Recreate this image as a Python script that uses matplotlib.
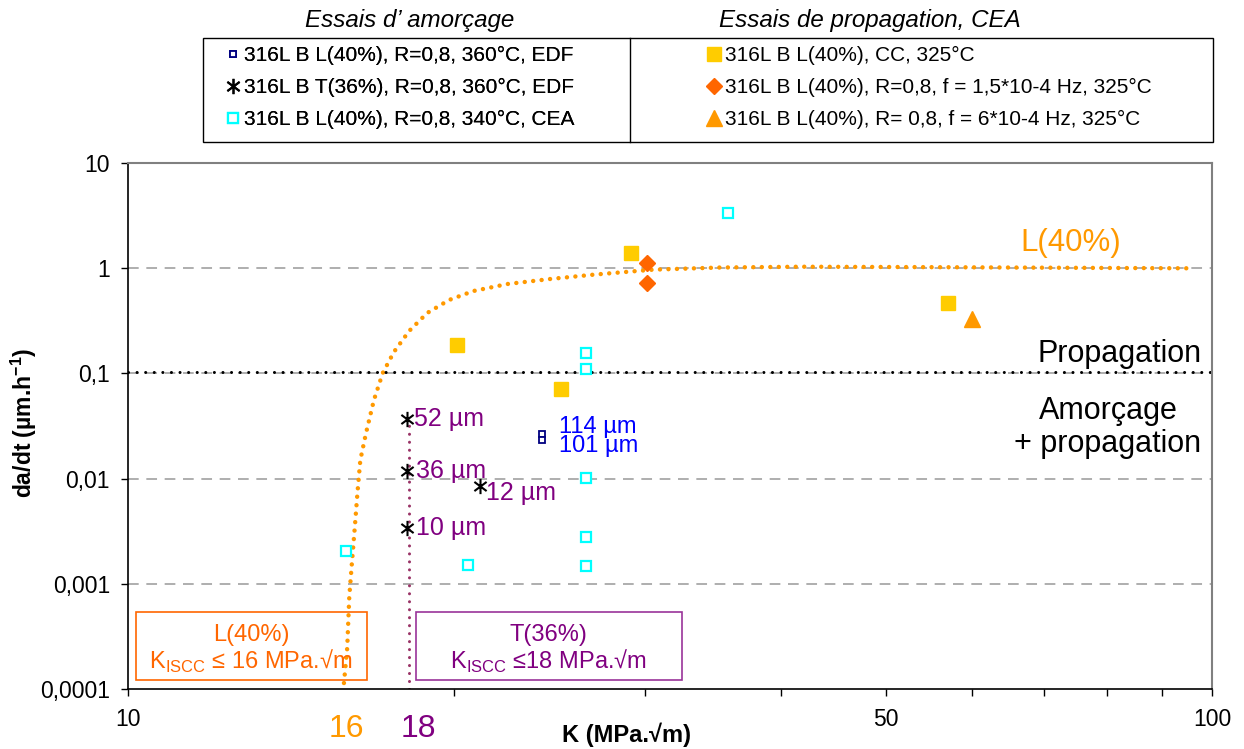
import matplotlib
matplotlib.use("Agg")
import matplotlib.pyplot as plt
from matplotlib.patches import Rectangle
from matplotlib.lines import Line2D
from matplotlib.path import Path
from matplotlib.ticker import FixedLocator, NullFormatter, FixedFormatter

plt.rcParams['font.family'] = ['Liberation Sans', 'DejaVu Sans']
plt.rcParams['mathtext.fontset'] = 'custom'
plt.rcParams['mathtext.rm'] = 'Liberation Sans'
plt.rcParams['mathtext.bf'] = 'Liberation Sans:bold'

# --- data ---
edf_l40_k = [24.1, 24.1]
edf_l40_v = [0.0266, 0.0233]
edf_l40_txt = ['114 µm', '101 µm']

t36_k = [18.1, 18.1, 18.1, 21.1]
t36_v = [0.0369, 0.0119, 0.00339, 0.0085]
t36_txt = ['52 µm', '36 µm', '10 µm', '12 µm']

cea_l40_k = [15.9, 20.6, 26.45, 26.45, 26.45, 26.45, 26.45, 35.8]
cea_l40_v = [0.00205, 0.00151, 0.156, 0.110, 0.0101, 0.00279, 0.00148, 3.35]

cc_k = [20.1, 25.1, 29.1, 57.1]
cc_v = [0.186, 0.0711, 1.39, 0.467]

f15_k = [30.1, 30.1]
f15_v = [1.12, 0.724]

f6_k = [60.1]
f6_v = [0.329]

curve_k = [15.82, 15.93, 16.00, 16.09, 16.19, 16.28, 16.38, 16.58, 16.86, 17.18,
           17.59, 18.17, 18.88, 19.78, 20.83, 22.40, 24.53, 26.85, 30.48, 35.16,
           41.69, 51.5, 70.7, 95.0]
curve_v = [0.000114, 0.000245, 0.000749, 0.00158, 0.00347, 0.00729, 0.0150,
           0.0271, 0.0558, 0.1009, 0.1596, 0.253, 0.375, 0.499, 0.607, 0.708,
           0.790, 0.867, 0.968, 1.015, 1.033, 1.026, 1.011, 0.998]

threshold_v = 0.103
kiscc_t36 = 18.15
kiscc_t36_top = 0.033

x_ticks = [10, 50, 100]
x_minor = [20, 30, 40, 60, 70, 80, 90]
y_ticks = [0.0001, 0.001, 0.01, 0.1, 1, 10]
y_labels = ['0,0001', '0,001', '0,01', '0,1', '1', '10']

# excel-like star: vertical bar + X
star = Path([(0, -1), (0, 1), (-0.8, -0.6), (0.8, 0.6), (-0.8, 0.6), (0.8, -0.6)],
            [Path.MOVETO, Path.LINETO] * 3)

fig = plt.figure(figsize=(12.44, 7.49), dpi=100)
ax = fig.add_axes([128/1244, 60/749, 1084/1244, 526/749])
ax.set_xscale('log')
ax.set_yscale('log')
ax.set_xlim(10, 100)
ax.set_ylim(0.0001, 10)

# grid
for v in [0.001, 0.01, 0.1, 1]:
    ax.axhline(v, color='#999999', lw=1.1, ls=(0, (7, 5)), zorder=0)

# fit curve L(40%)
ax.plot(curve_k, curve_v, color='#FF9900', lw=3.2, ls=(0, (0.01, 1.9)),
        dash_capstyle='round', zorder=2)
# propagation threshold
ax.axhline(threshold_v, color='black', lw=2.2, ls=(0, (0.01, 2.8)),
           dash_capstyle='round', zorder=2)
# KISCC T(36%)
ax.plot([kiscc_t36, kiscc_t36], [0.0001, kiscc_t36_top], color='#993366', lw=2.2,
        ls=(0, (0.01, 2.6)), dash_capstyle='round', zorder=2)

h1, = ax.plot(edf_l40_k, edf_l40_v, ls='none', marker='s', ms=5, mfc='white',
              mec='#000080', mew=1.3, zorder=4)
h2, = ax.plot(t36_k, t36_v, ls='none', marker=star, ms=11, mec='black',
              mew=1.5, zorder=4)
h3, = ax.plot(cea_l40_k, cea_l40_v, ls='none', marker='s', ms=7, mfc='white',
              mec='#00FFFF', mew=1.6, zorder=4)
h4, = ax.plot(cc_k, cc_v, ls='none', marker='s', ms=10, color='#FFCC00', zorder=4)
h5, = ax.plot(f15_k, f15_v, ls='none', marker='D', ms=8.5, color='#FF6600', zorder=4)
h6, = ax.plot(f6_k, f6_v, ls='none', marker='^', ms=11, color='#FF9900', zorder=4)

# point labels
t36_off = [(5, 0), (6, 0), (6, 0), (5, -5)]
for k, v, s, off in zip(t36_k, t36_v, t36_txt, t36_off):
    ax.annotate(s, (k, v), xytext=off, textcoords='offset points', color='#800080',
                fontsize=18, ha='left', va='center')
edf_off = [(12, 5), (12, -4)]
for k, v, s, off in zip(edf_l40_k, edf_l40_v, edf_l40_txt, edf_off):
    ax.annotate(s, (k, v), xytext=off, textcoords='offset points', color='#0000FF',
                fontsize=17, ha='left', va='center')

ax.text(0.870, 0.848, 'L(40%)', transform=ax.transAxes, color='#FF9900',
        fontsize=22.5, ha='center', va='center')
ax.text(0.990, 0.637, 'Propagation', transform=ax.transAxes, color='black',
        fontsize=22, ha='right', va='center')
ax.text(0.904, 0.497, 'Amorçage\n+ propagation', transform=ax.transAxes,
        color='black', fontsize=22, ha='center', va='center', linespacing=1.15)

# KISCC boxes
ax.add_patch(Rectangle((0.0074, 0.0171), 0.2131, 0.1293, transform=ax.transAxes,
                       fill=False, ec='#FF6600', lw=1.2, zorder=3))
ax.add_patch(Rectangle((0.2657, 0.0171), 0.2453, 0.1293, transform=ax.transAxes,
                       fill=False, ec='#993399', lw=1.2, zorder=3))
ax.text(0.1135, 0.103, 'L(40%)', transform=ax.transAxes, color='#FF6600',
        fontsize=17, ha='center', va='center')
ax.text(0.1135, 0.052, 'K$_\\mathregular{ISCC}$ ≤ 16 MPa.√m', transform=ax.transAxes,
        color='#FF6600', fontsize=17, ha='center', va='center')
ax.text(0.388, 0.103, 'T(36%)', transform=ax.transAxes, color='#800080',
        fontsize=17, ha='center', va='center')
ax.text(0.388, 0.052, 'K$_\\mathregular{ISCC}$ ≤18 MPa.√m', transform=ax.transAxes,
        color='#800080', fontsize=17, ha='center', va='center')

# axes styling
ax.xaxis.set_major_locator(FixedLocator(x_ticks))
ax.xaxis.set_major_formatter(FixedFormatter([str(t) for t in x_ticks]))
ax.xaxis.set_minor_locator(FixedLocator(x_minor))
ax.xaxis.set_minor_formatter(NullFormatter())
ax.yaxis.set_major_locator(FixedLocator(y_ticks))
ax.yaxis.set_major_formatter(FixedFormatter(y_labels))
ax.yaxis.set_minor_locator(FixedLocator([]))
ax.tick_params(axis='both', which='both', direction='out', length=5, width=1,
               labelsize=16.5)
ax.tick_params(axis='x', pad=9)
ax.tick_params(axis='y', pad=8)
for s in ['top', 'right']:
    ax.spines[s].set_color('#808080')
    ax.spines[s].set_linewidth(1.5)
for s in ['left', 'bottom']:
    ax.spines[s].set_linewidth(1.2)

ax.text(0.201, -0.076, '16', transform=ax.transAxes, color='#FF9900',
        fontsize=23, ha='center', va='center')
ax.text(0.268, -0.076, '18', transform=ax.transAxes, color='#800080',
        fontsize=23, ha='center', va='center')

ax.set_xlabel('K (MPa.√m)', fontsize=17, fontweight='bold', labelpad=0)
ax.xaxis.set_label_coords(0.460, -0.064)
ax.set_ylabel('da/dt (µm.h$^{\\mathbf{-1}}$)', fontsize=16.5, fontweight='bold')
ax.yaxis.set_label_coords(-0.082, 0.505)

# legend table
fig.add_artist(Rectangle((203/1244, 1 - 142/749), 1010/1244, 104/749,
                         transform=fig.transFigure, fill=False, ec='black', lw=1))
fig.add_artist(Line2D([630/1244, 630/1244], [1 - 142/749, 1 - 38/749],
                      transform=fig.transFigure, color='black', lw=1))
fig.text(410/1244, 1 - 20/749, "Essais d’ amorçage", fontsize=17.4, style='italic',
         ha='center', va='center')
fig.text(870/1244, 1 - 20/749, 'Essais de propagation, CEA', fontsize=17.4,
         style='italic', ha='center', va='center')

leg_kw = dict(frameon=False, fontsize=15, handlelength=0.7, handletextpad=0.15,
              labelspacing=0.63, borderpad=0, borderaxespad=0, loc='upper left')
leg1 = fig.legend([h1, h2, h3], ['316L B L(40%), R=0,8, 360°C, EDF',
                                 '316L B T(36%), R=0,8, 360°C, EDF',
                                 '316L B L(40%), R=0,8, 340°C, CEA'],
                  bbox_to_anchor=(226/1244, 1 - 46/749), **leg_kw)
fig.add_artist(leg1)
fig.legend([h4, h5, h6], ['316L B L(40%), CC, 325°C',
                          '316L B L(40%), R=0,8, f = 1,5*10-4 Hz, 325°C',
                          '316L B L(40%), R= 0,8, f = 6*10-4 Hz, 325°C'],
           bbox_to_anchor=(707/1244, 1 - 46/749), **leg_kw)

fig.savefig('out.png', dpi=100)
